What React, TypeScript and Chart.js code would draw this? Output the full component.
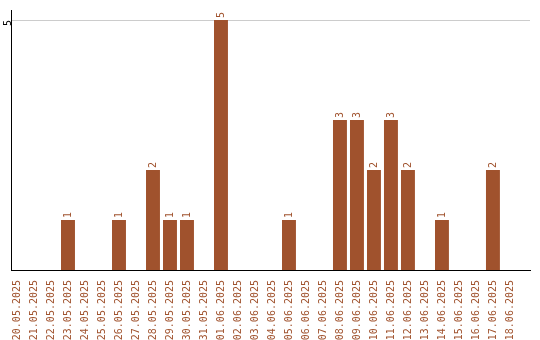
import React, { useEffect, useRef } from "react";
import { Chart, registerables } from "chart.js";

Chart.register(...registerables);

const categories = [
  "20.05.2025", "21.05.2025", "22.05.2025", "23.05.2025", "24.05.2025",
  "25.05.2025", "26.05.2025", "27.05.2025", "28.05.2025", "29.05.2025",
  "30.05.2025", "31.05.2025", "01.06.2025", "02.06.2025", "03.06.2025",
  "04.06.2025", "05.06.2025", "06.06.2025", "07.06.2025", "08.06.2025",
  "09.06.2025", "10.06.2025", "11.06.2025", "12.06.2025", "13.06.2025",
  "14.06.2025", "15.06.2025", "16.06.2025", "17.06.2025", "18.06.2025",
];
const counts = [
  0, 0, 0, 1, 0,
  0, 1, 0, 2, 1,
  1, 0, 5, 0, 0,
  0, 1, 0, 0, 3,
  3, 2, 3, 2, 0,
  1, 0, 0, 2, 0,
];
const yTicks = [5];

const BAR = "#A0522D";
const FONT = "'DejaVu Sans Mono', monospace";

const valueLabels = {
  id: "valueLabels",
  afterDatasetsDraw(chart: any) {
    const ctx = chart.ctx;
    const meta = chart.getDatasetMeta(0);
    ctx.save();
    ctx.fillStyle = BAR;
    ctx.font = `10px ${FONT}`;
    ctx.textAlign = "left";
    ctx.textBaseline = "middle";
    meta.data.forEach((el: any, i: number) => {
      const v = counts[i];
      if (!v) return;
      ctx.save();
      ctx.translate(el.x, el.y - 2);
      ctx.rotate(-Math.PI / 2);
      ctx.fillText(String(v), 0, 0);
      ctx.restore();
    });
    ctx.restore();
  },
};

export default function App() {
  const ref = useRef<HTMLCanvasElement>(null);
  useEffect(() => {
    const points = counts.map((v, i) => ({ x: i, y: v }));
    const chart = new Chart(ref.current!, {
      type: "bar",
      data: {
        datasets: [
          {
            data: points as any,
            backgroundColor: BAR,
            barPercentage: 0.82,
            categoryPercentage: 1,
          },
        ],
      },
      options: {
        animation: false,
        responsive: false,
        maintainAspectRatio: false,
        layout: { padding: { top: 10, right: 10, left: 0, bottom: 0 } },
        plugins: { legend: { display: false }, tooltip: { enabled: false } },
        scales: {
          x: {
            type: "linear",
            min: -0.353,
            max: 30.18,
            offset: false,
            afterBuildTicks: (s: any) => { s.ticks = categories.map((_, i) => ({ value: i })); },
            grid: { display: false },
            border: { color: "#000", width: 1 },
            ticks: {
              color: BAR,
              font: { family: FONT, size: 10 },
              minRotation: 90,
              maxRotation: 90,
              padding: 2,
              autoSkip: false,
              callback: (v: any) => categories[v as number] ?? "",
            },
            afterFit: (s: any) => { s.height = 70; },
          },
          y: {
            min: 0,
            max: 5.2,
            afterBuildTicks: (s: any) => { s.ticks = yTicks.map((v) => ({ value: v })); },
            grid: { color: "#cccccc", drawTicks: false },
            border: { color: "#000", width: 1 },
            ticks: {
              color: "#000",
              font: { family: FONT, size: 10 },
              minRotation: 90,
              maxRotation: 90,
              padding: 3,
            },
            afterFit: (s: any) => { s.width = 11; },
          },
        },
      },
      plugins: [valueLabels],
    });
    return () => chart.destroy();
  }, []);
  return (
    <div style={{ position: "absolute", left: 0, top: 0, width: 540, height: 340 }}>
      <canvas ref={ref} width={540} height={340} style={{ width: 540, height: 340 }} />
    </div>
  );
}
